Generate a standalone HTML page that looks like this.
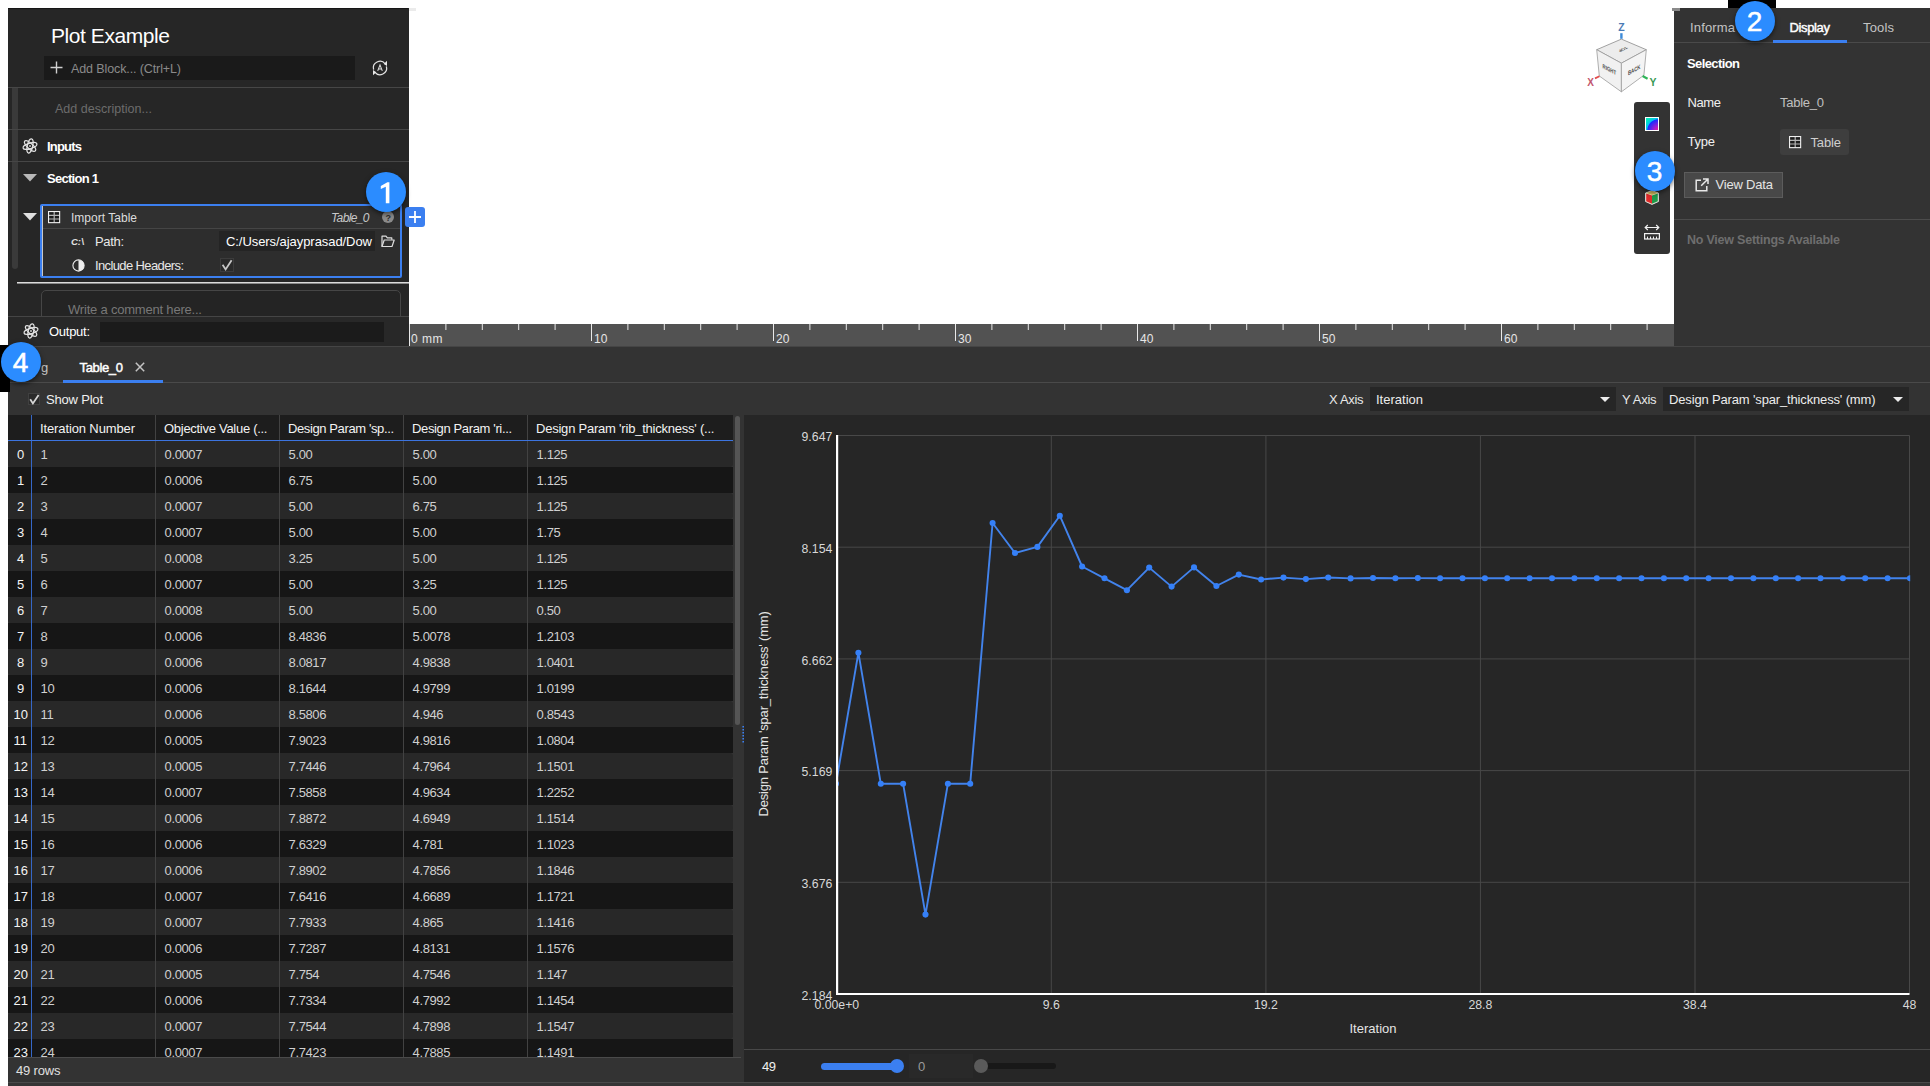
<!DOCTYPE html>
<html lang="en"><head><meta charset="utf-8"><title>Plot Example</title>
<style>
html,body{margin:0;padding:0;}
body{width:1930px;height:1086px;overflow:hidden;background:#fff;position:relative;font-family:"Liberation Sans", sans-serif;}
div,span.t,svg{position:absolute;box-sizing:border-box;}
span.t{white-space:pre;}
svg{overflow:visible;}
</style></head>
<body>
<div style="left:1728px;top:0px;width:48px;height:8px;background:#000;"></div>
<div style="left:8px;top:8px;width:401px;height:338px;background:#262626;"></div>
<div style="left:8px;top:8px;width:400px;height:1px;background:#161616;"></div>
<span id="t0" class="t" style="left:51px;top:25.30px;font-size:21px;line-height:21px;color:#fff;letter-spacing:-0.430px;">Plot Example</span>
<div style="left:44px;top:56px;width:311px;height:24px;background:#1a1a1a;"></div>
<svg style="left:50px;top:61px;" width="13" height="13" viewBox="0 0 13 13"><path d="M6.5 0.5V12.5M0.5 6.5H12.5" stroke="#d0d0d0" stroke-width="1.4" fill="none"/></svg>
<span id="t1" class="t" style="left:71px;top:63.05px;font-size:12.5px;line-height:12.5px;color:#8a8a8a;letter-spacing:-0.110px;">Add Block... (Ctrl+L)</span>
<svg style="left:372px;top:60px;" width="16" height="16" viewBox="0 0 16 16"><g fill="none" stroke="#e2e2e2" stroke-width="1.25"><path d="M1.6 9.6A6.6 6.6 0 0 1 13.2 3.9"/><path d="M14.4 6.4A6.6 6.6 0 0 1 2.8 12.1"/><path d="M5.7 10.9L8 4.9L10.3 10.9M6.6 8.9H9.4" stroke-width="1.05"/></g><path d="M15 0.8V6L11.8 3.9Z" fill="#e8e8e8"/><path d="M1 10V15.2L4.2 12.3Z" fill="#e8e8e8"/></svg>
<div style="left:8px;top:87px;width:401px;height:1px;background:#464646;"></div>
<div style="left:12px;top:88px;width:6px;height:181px;background:#3a3a3a;border-radius:0 0 3px 3px;"></div>
<span id="t2" class="t" style="left:55px;top:103.05px;font-size:12.5px;line-height:12.5px;color:#6c6c6c;letter-spacing:0.024px;">Add description...</span>
<div style="left:8px;top:129px;width:401px;height:1px;background:#464646;"></div>
<svg style="left:23px;top:138px;" width="15" height="16" viewBox="0 0 15 16"><g fill="none" stroke="#e4e4e4" stroke-width="1.25"><ellipse cx="7" cy="8" rx="2.7" ry="7.2" transform="rotate(12 7 8)"/><ellipse cx="7" cy="8" rx="2.7" ry="7.2" transform="rotate(72 7 8)"/><ellipse cx="7" cy="8" rx="2.7" ry="7.2" transform="rotate(132 7 8)"/></g><circle cx="7" cy="8" r="1.1" fill="#bdbdbd"/></svg>
<span id="t3" class="t" style="left:47px;top:140.30px;font-size:13px;line-height:13px;color:#fff;font-weight:700;letter-spacing:-0.800px;">Inputs</span>
<div style="left:8px;top:161px;width:401px;height:1px;background:#464646;"></div>
<svg style="left:23px;top:174px;" width="14" height="8" viewBox="0 0 14 8"><path d="M0 0H14L7 7.5Z" fill="#b8b8b8"/></svg>
<span id="t4" class="t" style="left:47px;top:172.30px;font-size:13px;line-height:13px;color:#fff;font-weight:700;letter-spacing:-0.725px;">Section 1</span>
<div style="left:40px;top:204px;width:362px;height:74px;background:#2d2d2d;border:2px solid #3b7ff0;border-radius:2px;"></div>
<div style="left:42px;top:206px;width:358px;height:22px;background:#303030;"></div>
<div style="left:42px;top:206px;width:1px;height:70px;background:#c8c8c8;"></div>
<div style="left:43px;top:228px;width:357px;height:1px;background:#454545;"></div>
<svg style="left:23px;top:213px;" width="14" height="8" viewBox="0 0 14 8"><path d="M0 0H14L7 7.5Z" fill="#e0e0e0"/></svg>
<svg style="left:48px;top:211px;" width="12" height="12" viewBox="0 0 12 12"><rect x="1" y="1" width="10.4" height="10.4" fill="#1c1c1c"/><g fill="none" stroke="#b4b4b4" stroke-width="1.2"><path d="M0.6 4.3H11.6M0.6 8H11.6M6.2 0.6V11.6"/></g><rect x="0.55" y="0.55" width="11.1" height="11.1" fill="none" stroke="#f0f0f0" stroke-width="1.1"/></svg>
<span id="t5" class="t" style="left:71px;top:212.30px;font-size:12px;line-height:12px;color:#ddd;letter-spacing:0.017px;">Import Table</span>
<span id="t6" class="t" style="left:331px;top:212.30px;font-size:12px;line-height:12px;color:#c8c8c8;font-style:italic;letter-spacing:-0.628px;">Table_0</span>
<div style="left:382px;top:211px;width:12px;height:12px;background:#8a8a8a;border-radius:6px;"></div>
<span id="t7" class="t" style="left:385.6px;top:213.80px;font-size:9px;line-height:9px;color:#2d2d2d;font-weight:700;">?</span>
<span id="t8" class="t" style="left:71px;top:237.05px;font-size:9.5px;line-height:9.5px;color:#e0e0e0;font-weight:700;font-style:italic;">C:</span>
<span id="t9" class="t" style="left:81.4px;top:237.05px;font-size:9.5px;line-height:9.5px;color:#e0e0e0;font-weight:700;">\</span>
<span id="t10" class="t" style="left:95px;top:235.30px;font-size:13px;line-height:13px;color:#e8e8e8;letter-spacing:-0.340px;">Path:</span>
<div style="left:219px;top:231px;width:156px;height:20px;background:#242424;"></div>
<span id="t11" class="t" style="left:226px;top:235.30px;font-size:13px;line-height:13px;color:#fff;letter-spacing:-0.063px;">C:/Users/ajayprasad/Dow</span>
<svg style="left:381px;top:235px;" width="14" height="13" viewBox="0 0 14 13"><g fill="none" stroke="#ddd" stroke-width="1.2" stroke-linejoin="round"><path d="M1 11.5V1.2H5L6.3 2.8H10.8V4.8"/><path d="M1 11.5L3.2 5H13.2L11 11.5Z"/></g></svg>
<svg style="left:71.5px;top:258.5px;" width="13" height="13" viewBox="0 0 13 13"><circle cx="6.5" cy="6.5" r="5.6" fill="none" stroke="#eee" stroke-width="1.1"/><path d="M6.5 0.9A5.6 5.6 0 0 1 6.5 12.1Z" fill="#eee"/></svg>
<span id="t12" class="t" style="left:95px;top:259.30px;font-size:13px;line-height:13px;color:#e8e8e8;letter-spacing:-0.619px;">Include Headers:</span>
<div style="left:220px;top:258px;width:14px;height:14px;background:#2a2a2a;border:1px solid #3c3c3c;"></div>
<svg style="left:221px;top:259px;" width="12" height="12" viewBox="0 0 12 12"><path d="M1.6 5.8L4.6 10.4L10.6 1.2" fill="none" stroke="#c8c8c8" stroke-width="1.8"/></svg>
<div style="left:405px;top:207px;width:20px;height:20px;background:#3b7ff0;border-radius:3px;"></div>
<svg style="left:405px;top:207px;" width="20" height="20" viewBox="0 0 20 20"><path d="M10 4V16M4 10H16" stroke="#fff" stroke-width="1.8" fill="none"/></svg>
<div style="left:17px;top:282px;width:392px;height:1px;background:#dcdcdc;"></div>
<div style="left:17px;top:283px;width:392px;height:1px;background:#8a8a8a;"></div>
<div style="left:41px;top:290px;width:360px;height:40px;background:#242424;border:1px solid #464646;border-radius:5px;"></div>
<span id="t13" class="t" style="left:68px;top:303.30px;font-size:13px;line-height:13px;color:#787878;letter-spacing:-0.204px;">Write a comment here...</span>
<div style="left:8px;top:316px;width:401px;height:30px;background:#282828;border-top:1px solid #454545;"></div>
<svg style="left:24px;top:322.5px;" width="15" height="16" viewBox="0 0 15 16"><g fill="none" stroke="#e4e4e4" stroke-width="1.25"><ellipse cx="7" cy="8" rx="2.7" ry="7.2" transform="rotate(12 7 8)"/><ellipse cx="7" cy="8" rx="2.7" ry="7.2" transform="rotate(72 7 8)"/><ellipse cx="7" cy="8" rx="2.7" ry="7.2" transform="rotate(132 7 8)"/></g><circle cx="7" cy="8" r="1.1" fill="#bdbdbd"/></svg>
<span id="t14" class="t" style="left:49px;top:325.30px;font-size:13px;line-height:13px;color:#fff;letter-spacing:-0.273px;">Output:</span>
<div style="left:100px;top:322px;width:284px;height:20px;background:#1b1b1b;"></div>
<div style="left:409px;top:8px;width:7px;height:3px;background:#ebebeb;"></div>
<div style="left:409px;top:324px;width:1265px;height:22px;background:#525252;"></div>
<svg style="left:409px;top:324px;overflow:hidden;" width="1265" height="22" viewBox="0 0 1265 22"><g stroke="#e8e8e8" stroke-width="1" fill="none"><path d="M0.5 0V22" /><path d="M36.9 0V6" /><path d="M73.3 0V6" /><path d="M109.7 0V6" /><path d="M146.1 0V6" /><path d="M182.5 0V17" /><path d="M218.9 0V6" /><path d="M255.3 0V6" /><path d="M291.7 0V6" /><path d="M328.1 0V6" /><path d="M364.5 0V17" /><path d="M400.9 0V6" /><path d="M437.3 0V6" /><path d="M473.7 0V6" /><path d="M510.1 0V6" /><path d="M546.5 0V17" /><path d="M582.9 0V6" /><path d="M619.3 0V6" /><path d="M655.7 0V6" /><path d="M692.1 0V6" /><path d="M728.5 0V17" /><path d="M764.9 0V6" /><path d="M801.3 0V6" /><path d="M837.7 0V6" /><path d="M874.1 0V6" /><path d="M910.5 0V17" /><path d="M946.9 0V6" /><path d="M983.3 0V6" /><path d="M1019.7 0V6" /><path d="M1056.1 0V6" /><path d="M1092.5 0V17" /><path d="M1128.9 0V6" /><path d="M1165.3 0V6" /><path d="M1201.7 0V6" /><path d="M1238.1 0V6" /></g></svg>
<span id="t15" class="t" style="left:411px;top:333.30px;font-size:12px;line-height:12px;color:#e6e6e6;letter-spacing:0.500px;">0 mm</span>
<span id="t16" class="t" style="left:594px;top:333.30px;font-size:12px;line-height:12px;color:#e6e6e6;">10</span>
<span id="t17" class="t" style="left:776px;top:333.30px;font-size:12px;line-height:12px;color:#e6e6e6;">20</span>
<span id="t18" class="t" style="left:958px;top:333.30px;font-size:12px;line-height:12px;color:#e6e6e6;">30</span>
<span id="t19" class="t" style="left:1140px;top:333.30px;font-size:12px;line-height:12px;color:#e6e6e6;">40</span>
<span id="t20" class="t" style="left:1322px;top:333.30px;font-size:12px;line-height:12px;color:#e6e6e6;">50</span>
<span id="t21" class="t" style="left:1504px;top:333.30px;font-size:12px;line-height:12px;color:#e6e6e6;">60</span>
<div style="left:1634px;top:102px;width:36px;height:152px;background:#333333;border-radius:3px;"></div>
<svg style="left:1645px;top:117px" width="14" height="14" viewBox="0 0 14 14"><defs><radialGradient id="cg" cx="1" cy="1" r="1.15" gradientUnits="objectBoundingBox"><stop offset="0" stop-color="#ff1a8c"/><stop offset="0.3" stop-color="#a01fd0"/><stop offset="0.72" stop-color="#1a2cff"/><stop offset="0.78" stop-color="#00c0f0"/><stop offset="1" stop-color="#00e8c0"/></radialGradient></defs><rect x="0.5" y="0.5" width="13" height="13" fill="url(#cg)" stroke="#fff" stroke-width="1"/></svg>
<svg style="left:1645px;top:190px;" width="14" height="15" viewBox="0 0 14 15"><path d="M7 0.6L13.4 3V11.6L7 14.4L0.6 11.6V3Z" fill="#f4f0d0" stroke="#f0f0f0" stroke-width="0.8"/><path d="M1.2 3.6L7 5.6V13.8L1.2 11.2Z" fill="#e02a2a"/><path d="M12.8 3.6L7 5.6V13.8L12.8 11.2Z" fill="#1f9a4a"/><path d="M1.4 3.1L7 0.9L12.6 3.1L7 5.1Z" fill="#d8c060"/></svg>
<svg style="left:1644px;top:223px;" width="16" height="17" viewBox="0 0 16 17"><g fill="none" stroke="#f2f2f2" stroke-width="1.2"><path d="M1.5 4.5H14.5M3.8 2L1.2 4.5L3.8 7M12.2 2L14.8 4.5L12.2 7"/><rect x="0.6" y="10.6" width="14.8" height="5.4"/><path d="M3.5 16V13.6M6.5 16V13.6M9.5 16V13.6M12.5 16V13.6" stroke-width="1"/></g></svg>
<div style="left:1674px;top:8px;width:256px;height:338px;background:#333333;"></div>
<div style="left:1672px;top:8px;width:8px;height:3px;background:#8a8a8a;"></div>
<span id="t22" class="t" style="left:1690px;top:21.30px;font-size:13px;line-height:13px;color:#c4c4c4;letter-spacing:0.154px;">Informa</span>
<span id="t23" class="t" style="left:1789.5px;top:21.30px;font-size:13px;line-height:13px;color:#fff;letter-spacing:-0.354px;-webkit-text-stroke:0.45px #fff;">Display</span>
<span id="t24" class="t" style="left:1863px;top:21.30px;font-size:13px;line-height:13px;color:#c4c4c4;letter-spacing:0.160px;">Tools</span>
<div style="left:1674px;top:42px;width:256px;height:1px;background:#4a4a4a;"></div>
<div style="left:1773px;top:40px;width:74px;height:3px;background:#3b7ff0;"></div>
<span id="t25" class="t" style="left:1687px;top:57.30px;font-size:13px;line-height:13px;color:#fff;font-weight:700;letter-spacing:-0.600px;">Selection</span>
<span id="t26" class="t" style="left:1687.5px;top:96.30px;font-size:13px;line-height:13px;color:#f0f0f0;letter-spacing:-0.396px;">Name</span>
<span id="t27" class="t" style="left:1780px;top:96.30px;font-size:13px;line-height:13px;color:#c0c0c0;letter-spacing:-0.258px;">Table_0</span>
<span id="t28" class="t" style="left:1687.5px;top:135.30px;font-size:13px;line-height:13px;color:#f0f0f0;letter-spacing:-0.229px;">Type</span>
<div style="left:1780px;top:129px;width:69px;height:26px;background:#3e3e3e;border-radius:3px;"></div>
<svg style="left:1789px;top:136px;" width="12" height="12" viewBox="0 0 12 12"><rect x="1" y="1" width="10.4" height="10.4" fill="#1c1c1c"/><g fill="none" stroke="#b4b4b4" stroke-width="1.2"><path d="M0.6 4.3H11.6M0.6 8H11.6M6.2 0.6V11.6"/></g><rect x="0.55" y="0.55" width="11.1" height="11.1" fill="none" stroke="#f0f0f0" stroke-width="1.1"/></svg>
<span id="t29" class="t" style="left:1810.5px;top:136.30px;font-size:13px;line-height:13px;color:#cfcfcf;letter-spacing:-0.145px;">Table</span>
<div style="left:1684px;top:172px;width:99px;height:26px;background:#484848;border:1px solid #5c5c5c;"></div>
<svg style="left:1695px;top:178px;" width="14" height="14" viewBox="0 0 14 14"><g fill="none" stroke="#e8e8e8" stroke-width="1.5"><path d="M6 2.2H1.2V12.8H11.8V8"/><path d="M8 1H13V6M13 1L6.2 7.8"/></g></svg>
<span id="t30" class="t" style="left:1715.5px;top:178.30px;font-size:13px;line-height:13px;color:#e4e4e4;letter-spacing:-0.189px;">View Data</span>
<div style="left:1674px;top:219px;width:256px;height:1px;background:#4c4c4c;"></div>
<span id="t31" class="t" style="left:1687px;top:234.05px;font-size:12.5px;line-height:12.5px;color:#6e6e6e;font-weight:700;letter-spacing:-0.225px;">No View Settings Available</span>
<div style="left:8px;top:346px;width:1922px;height:740px;background:#333333;"></div>
<div style="left:8px;top:346px;width:1922px;height:1px;background:#454545;"></div>
<div style="left:8px;top:382px;width:1922px;height:1px;background:#4a4a4a;"></div>
<span id="t32" class="t" style="left:41px;top:361.30px;font-size:13px;line-height:13px;color:#c4c4c4;">g</span>
<span id="t33" class="t" style="left:79.5px;top:361.30px;font-size:13px;line-height:13px;color:#fff;letter-spacing:-0.341px;-webkit-text-stroke:0.45px #fff;">Table_0</span>
<svg style="left:135px;top:362px;" width="10" height="10" viewBox="0 0 10 10"><path d="M0.8 0.8L9.2 9.2M9.2 0.8L0.8 9.2" stroke="#c4c4c4" stroke-width="1.5" fill="none"/></svg>
<div style="left:63px;top:380px;width:100px;height:3px;background:#3b7ff0;"></div>
<div style="left:28px;top:393px;width:12px;height:12px;background:#2a2a2a;border:1px solid #404040;"></div>
<svg style="left:29px;top:394px;" width="11" height="11" viewBox="0 0 11 11"><path d="M1.2 5.2L3.9 9.4L9.6 1" fill="none" stroke="#d4d4d4" stroke-width="1.8"/></svg>
<span id="t34" class="t" style="left:46px;top:393.30px;font-size:13px;line-height:13px;color:#f0f0f0;letter-spacing:-0.193px;">Show Plot</span>
<span id="t35" class="t" style="left:1329px;top:393.30px;font-size:13px;line-height:13px;color:#e8e8e8;letter-spacing:-0.325px;">X Axis</span>
<div style="left:1370px;top:387px;width:246px;height:24px;background:#262626;"></div>
<span id="t36" class="t" style="left:1376px;top:393.30px;font-size:13px;line-height:13px;color:#ececec;letter-spacing:0.002px;">Iteration</span>
<svg style="left:1600px;top:397px;" width="10" height="5" viewBox="0 0 10 5"><path d="M0 0H10L5 5Z" fill="#ececec"/></svg>
<span id="t37" class="t" style="left:1622px;top:393.30px;font-size:13px;line-height:13px;color:#e8e8e8;letter-spacing:-0.278px;">Y Axis</span>
<div style="left:1663px;top:387px;width:246px;height:24px;background:#262626;"></div>
<span id="t38" class="t" style="left:1669px;top:393.30px;font-size:13px;line-height:13px;color:#ececec;letter-spacing:-0.154px;">Design Param 'spar_thickness' (mm)</span>
<svg style="left:1893px;top:397px;" width="10" height="5" viewBox="0 0 10 5"><path d="M0 0H10L5 5Z" fill="#ececec"/></svg>
<div style="left:8px;top:415px;width:725px;height:26px;background:#1d1d1d;"></div>
<div style="left:8px;top:441px;width:725px;height:26px;background:#282828;border-radius:3px;"></div>
<div style="left:8px;top:467px;width:725px;height:26px;background:#161616;"></div>
<div style="left:8px;top:493px;width:725px;height:26px;background:#282828;border-radius:3px;"></div>
<div style="left:8px;top:519px;width:725px;height:26px;background:#161616;"></div>
<div style="left:8px;top:545px;width:725px;height:26px;background:#282828;border-radius:3px;"></div>
<div style="left:8px;top:571px;width:725px;height:26px;background:#161616;"></div>
<div style="left:8px;top:597px;width:725px;height:26px;background:#282828;border-radius:3px;"></div>
<div style="left:8px;top:623px;width:725px;height:26px;background:#161616;"></div>
<div style="left:8px;top:649px;width:725px;height:26px;background:#282828;border-radius:3px;"></div>
<div style="left:8px;top:675px;width:725px;height:26px;background:#161616;"></div>
<div style="left:8px;top:701px;width:725px;height:26px;background:#282828;border-radius:3px;"></div>
<div style="left:8px;top:727px;width:725px;height:26px;background:#161616;"></div>
<div style="left:8px;top:753px;width:725px;height:26px;background:#282828;border-radius:3px;"></div>
<div style="left:8px;top:779px;width:725px;height:26px;background:#161616;"></div>
<div style="left:8px;top:805px;width:725px;height:26px;background:#282828;border-radius:3px;"></div>
<div style="left:8px;top:831px;width:725px;height:26px;background:#161616;"></div>
<div style="left:8px;top:857px;width:725px;height:26px;background:#282828;border-radius:3px;"></div>
<div style="left:8px;top:883px;width:725px;height:26px;background:#161616;"></div>
<div style="left:8px;top:909px;width:725px;height:26px;background:#282828;border-radius:3px;"></div>
<div style="left:8px;top:935px;width:725px;height:26px;background:#161616;"></div>
<div style="left:8px;top:961px;width:725px;height:26px;background:#282828;border-radius:3px;"></div>
<div style="left:8px;top:987px;width:725px;height:26px;background:#161616;"></div>
<div style="left:8px;top:1013px;width:725px;height:26px;background:#282828;border-radius:3px;"></div>
<div style="left:8px;top:1039px;width:725px;height:18px;background:#161616;"></div>
<div style="left:8px;top:415px;width:725px;height:642px;overflow:hidden;">
<span id="t39" class="t" style="left:32px;top:7.30px;font-size:13px;line-height:13px;color:#f2f2f2;letter-spacing:-0.122px;">Iteration Number</span>
<span id="t40" class="t" style="left:156px;top:7.30px;font-size:13px;line-height:13px;color:#f2f2f2;letter-spacing:-0.283px;">Objective Value (...</span>
<span id="t41" class="t" style="left:280px;top:7.30px;font-size:13px;line-height:13px;color:#f2f2f2;letter-spacing:-0.391px;">Design Param 'sp...</span>
<span id="t42" class="t" style="left:404px;top:7.30px;font-size:13px;line-height:13px;color:#f2f2f2;letter-spacing:-0.362px;">Design Param 'ri...</span>
<span id="t43" class="t" style="left:528px;top:7.30px;font-size:13px;line-height:13px;color:#f2f2f2;letter-spacing:-0.222px;">Design Param 'rib_thickness' (...</span>
<span id="t44" class="t" style="left:9px;top:33.30px;font-size:13px;line-height:13px;color:#f4f4f4;">0</span>
<span id="t45" class="t" style="left:32.6px;top:33.30px;font-size:13px;line-height:13px;color:#d0d0d0;letter-spacing:-0.4px;">1</span>
<span id="t46" class="t" style="left:156.6px;top:33.30px;font-size:13px;line-height:13px;color:#d0d0d0;letter-spacing:-0.4px;">0.0007</span>
<span id="t47" class="t" style="left:280.6px;top:33.30px;font-size:13px;line-height:13px;color:#d0d0d0;letter-spacing:-0.4px;">5.00</span>
<span id="t48" class="t" style="left:404.6px;top:33.30px;font-size:13px;line-height:13px;color:#d0d0d0;letter-spacing:-0.4px;">5.00</span>
<span id="t49" class="t" style="left:528.6px;top:33.30px;font-size:13px;line-height:13px;color:#d0d0d0;letter-spacing:-0.4px;">1.125</span>
<span id="t50" class="t" style="left:9px;top:59.30px;font-size:13px;line-height:13px;color:#f4f4f4;">1</span>
<span id="t51" class="t" style="left:32.6px;top:59.30px;font-size:13px;line-height:13px;color:#d0d0d0;letter-spacing:-0.4px;">2</span>
<span id="t52" class="t" style="left:156.6px;top:59.30px;font-size:13px;line-height:13px;color:#d0d0d0;letter-spacing:-0.4px;">0.0006</span>
<span id="t53" class="t" style="left:280.6px;top:59.30px;font-size:13px;line-height:13px;color:#d0d0d0;letter-spacing:-0.4px;">6.75</span>
<span id="t54" class="t" style="left:404.6px;top:59.30px;font-size:13px;line-height:13px;color:#d0d0d0;letter-spacing:-0.4px;">5.00</span>
<span id="t55" class="t" style="left:528.6px;top:59.30px;font-size:13px;line-height:13px;color:#d0d0d0;letter-spacing:-0.4px;">1.125</span>
<span id="t56" class="t" style="left:9px;top:85.30px;font-size:13px;line-height:13px;color:#f4f4f4;">2</span>
<span id="t57" class="t" style="left:32.6px;top:85.30px;font-size:13px;line-height:13px;color:#d0d0d0;letter-spacing:-0.4px;">3</span>
<span id="t58" class="t" style="left:156.6px;top:85.30px;font-size:13px;line-height:13px;color:#d0d0d0;letter-spacing:-0.4px;">0.0007</span>
<span id="t59" class="t" style="left:280.6px;top:85.30px;font-size:13px;line-height:13px;color:#d0d0d0;letter-spacing:-0.4px;">5.00</span>
<span id="t60" class="t" style="left:404.6px;top:85.30px;font-size:13px;line-height:13px;color:#d0d0d0;letter-spacing:-0.4px;">6.75</span>
<span id="t61" class="t" style="left:528.6px;top:85.30px;font-size:13px;line-height:13px;color:#d0d0d0;letter-spacing:-0.4px;">1.125</span>
<span id="t62" class="t" style="left:9px;top:111.30px;font-size:13px;line-height:13px;color:#f4f4f4;">3</span>
<span id="t63" class="t" style="left:32.6px;top:111.30px;font-size:13px;line-height:13px;color:#d0d0d0;letter-spacing:-0.4px;">4</span>
<span id="t64" class="t" style="left:156.6px;top:111.30px;font-size:13px;line-height:13px;color:#d0d0d0;letter-spacing:-0.4px;">0.0007</span>
<span id="t65" class="t" style="left:280.6px;top:111.30px;font-size:13px;line-height:13px;color:#d0d0d0;letter-spacing:-0.4px;">5.00</span>
<span id="t66" class="t" style="left:404.6px;top:111.30px;font-size:13px;line-height:13px;color:#d0d0d0;letter-spacing:-0.4px;">5.00</span>
<span id="t67" class="t" style="left:528.6px;top:111.30px;font-size:13px;line-height:13px;color:#d0d0d0;letter-spacing:-0.4px;">1.75</span>
<span id="t68" class="t" style="left:9px;top:137.30px;font-size:13px;line-height:13px;color:#f4f4f4;">4</span>
<span id="t69" class="t" style="left:32.6px;top:137.30px;font-size:13px;line-height:13px;color:#d0d0d0;letter-spacing:-0.4px;">5</span>
<span id="t70" class="t" style="left:156.6px;top:137.30px;font-size:13px;line-height:13px;color:#d0d0d0;letter-spacing:-0.4px;">0.0008</span>
<span id="t71" class="t" style="left:280.6px;top:137.30px;font-size:13px;line-height:13px;color:#d0d0d0;letter-spacing:-0.4px;">3.25</span>
<span id="t72" class="t" style="left:404.6px;top:137.30px;font-size:13px;line-height:13px;color:#d0d0d0;letter-spacing:-0.4px;">5.00</span>
<span id="t73" class="t" style="left:528.6px;top:137.30px;font-size:13px;line-height:13px;color:#d0d0d0;letter-spacing:-0.4px;">1.125</span>
<span id="t74" class="t" style="left:9px;top:163.30px;font-size:13px;line-height:13px;color:#f4f4f4;">5</span>
<span id="t75" class="t" style="left:32.6px;top:163.30px;font-size:13px;line-height:13px;color:#d0d0d0;letter-spacing:-0.4px;">6</span>
<span id="t76" class="t" style="left:156.6px;top:163.30px;font-size:13px;line-height:13px;color:#d0d0d0;letter-spacing:-0.4px;">0.0007</span>
<span id="t77" class="t" style="left:280.6px;top:163.30px;font-size:13px;line-height:13px;color:#d0d0d0;letter-spacing:-0.4px;">5.00</span>
<span id="t78" class="t" style="left:404.6px;top:163.30px;font-size:13px;line-height:13px;color:#d0d0d0;letter-spacing:-0.4px;">3.25</span>
<span id="t79" class="t" style="left:528.6px;top:163.30px;font-size:13px;line-height:13px;color:#d0d0d0;letter-spacing:-0.4px;">1.125</span>
<span id="t80" class="t" style="left:9px;top:189.30px;font-size:13px;line-height:13px;color:#f4f4f4;">6</span>
<span id="t81" class="t" style="left:32.6px;top:189.30px;font-size:13px;line-height:13px;color:#d0d0d0;letter-spacing:-0.4px;">7</span>
<span id="t82" class="t" style="left:156.6px;top:189.30px;font-size:13px;line-height:13px;color:#d0d0d0;letter-spacing:-0.4px;">0.0008</span>
<span id="t83" class="t" style="left:280.6px;top:189.30px;font-size:13px;line-height:13px;color:#d0d0d0;letter-spacing:-0.4px;">5.00</span>
<span id="t84" class="t" style="left:404.6px;top:189.30px;font-size:13px;line-height:13px;color:#d0d0d0;letter-spacing:-0.4px;">5.00</span>
<span id="t85" class="t" style="left:528.6px;top:189.30px;font-size:13px;line-height:13px;color:#d0d0d0;letter-spacing:-0.4px;">0.50</span>
<span id="t86" class="t" style="left:9px;top:215.30px;font-size:13px;line-height:13px;color:#f4f4f4;">7</span>
<span id="t87" class="t" style="left:32.6px;top:215.30px;font-size:13px;line-height:13px;color:#d0d0d0;letter-spacing:-0.4px;">8</span>
<span id="t88" class="t" style="left:156.6px;top:215.30px;font-size:13px;line-height:13px;color:#d0d0d0;letter-spacing:-0.4px;">0.0006</span>
<span id="t89" class="t" style="left:280.6px;top:215.30px;font-size:13px;line-height:13px;color:#d0d0d0;letter-spacing:-0.4px;">8.4836</span>
<span id="t90" class="t" style="left:404.6px;top:215.30px;font-size:13px;line-height:13px;color:#d0d0d0;letter-spacing:-0.4px;">5.0078</span>
<span id="t91" class="t" style="left:528.6px;top:215.30px;font-size:13px;line-height:13px;color:#d0d0d0;letter-spacing:-0.4px;">1.2103</span>
<span id="t92" class="t" style="left:9px;top:241.30px;font-size:13px;line-height:13px;color:#f4f4f4;">8</span>
<span id="t93" class="t" style="left:32.6px;top:241.30px;font-size:13px;line-height:13px;color:#d0d0d0;letter-spacing:-0.4px;">9</span>
<span id="t94" class="t" style="left:156.6px;top:241.30px;font-size:13px;line-height:13px;color:#d0d0d0;letter-spacing:-0.4px;">0.0006</span>
<span id="t95" class="t" style="left:280.6px;top:241.30px;font-size:13px;line-height:13px;color:#d0d0d0;letter-spacing:-0.4px;">8.0817</span>
<span id="t96" class="t" style="left:404.6px;top:241.30px;font-size:13px;line-height:13px;color:#d0d0d0;letter-spacing:-0.4px;">4.9838</span>
<span id="t97" class="t" style="left:528.6px;top:241.30px;font-size:13px;line-height:13px;color:#d0d0d0;letter-spacing:-0.4px;">1.0401</span>
<span id="t98" class="t" style="left:9px;top:267.30px;font-size:13px;line-height:13px;color:#f4f4f4;">9</span>
<span id="t99" class="t" style="left:32.6px;top:267.30px;font-size:13px;line-height:13px;color:#d0d0d0;letter-spacing:-0.4px;">10</span>
<span id="t100" class="t" style="left:156.6px;top:267.30px;font-size:13px;line-height:13px;color:#d0d0d0;letter-spacing:-0.4px;">0.0006</span>
<span id="t101" class="t" style="left:280.6px;top:267.30px;font-size:13px;line-height:13px;color:#d0d0d0;letter-spacing:-0.4px;">8.1644</span>
<span id="t102" class="t" style="left:404.6px;top:267.30px;font-size:13px;line-height:13px;color:#d0d0d0;letter-spacing:-0.4px;">4.9799</span>
<span id="t103" class="t" style="left:528.6px;top:267.30px;font-size:13px;line-height:13px;color:#d0d0d0;letter-spacing:-0.4px;">1.0199</span>
<span id="t104" class="t" style="left:5.5px;top:293.30px;font-size:13px;line-height:13px;color:#f4f4f4;">10</span>
<span id="t105" class="t" style="left:32.6px;top:293.30px;font-size:13px;line-height:13px;color:#d0d0d0;letter-spacing:-0.4px;">11</span>
<span id="t106" class="t" style="left:156.6px;top:293.30px;font-size:13px;line-height:13px;color:#d0d0d0;letter-spacing:-0.4px;">0.0006</span>
<span id="t107" class="t" style="left:280.6px;top:293.30px;font-size:13px;line-height:13px;color:#d0d0d0;letter-spacing:-0.4px;">8.5806</span>
<span id="t108" class="t" style="left:404.6px;top:293.30px;font-size:13px;line-height:13px;color:#d0d0d0;letter-spacing:-0.4px;">4.946</span>
<span id="t109" class="t" style="left:528.6px;top:293.30px;font-size:13px;line-height:13px;color:#d0d0d0;letter-spacing:-0.4px;">0.8543</span>
<span id="t110" class="t" style="left:5.5px;top:319.30px;font-size:13px;line-height:13px;color:#f4f4f4;">11</span>
<span id="t111" class="t" style="left:32.6px;top:319.30px;font-size:13px;line-height:13px;color:#d0d0d0;letter-spacing:-0.4px;">12</span>
<span id="t112" class="t" style="left:156.6px;top:319.30px;font-size:13px;line-height:13px;color:#d0d0d0;letter-spacing:-0.4px;">0.0005</span>
<span id="t113" class="t" style="left:280.6px;top:319.30px;font-size:13px;line-height:13px;color:#d0d0d0;letter-spacing:-0.4px;">7.9023</span>
<span id="t114" class="t" style="left:404.6px;top:319.30px;font-size:13px;line-height:13px;color:#d0d0d0;letter-spacing:-0.4px;">4.9816</span>
<span id="t115" class="t" style="left:528.6px;top:319.30px;font-size:13px;line-height:13px;color:#d0d0d0;letter-spacing:-0.4px;">1.0804</span>
<span id="t116" class="t" style="left:5.5px;top:345.30px;font-size:13px;line-height:13px;color:#f4f4f4;">12</span>
<span id="t117" class="t" style="left:32.6px;top:345.30px;font-size:13px;line-height:13px;color:#d0d0d0;letter-spacing:-0.4px;">13</span>
<span id="t118" class="t" style="left:156.6px;top:345.30px;font-size:13px;line-height:13px;color:#d0d0d0;letter-spacing:-0.4px;">0.0005</span>
<span id="t119" class="t" style="left:280.6px;top:345.30px;font-size:13px;line-height:13px;color:#d0d0d0;letter-spacing:-0.4px;">7.7446</span>
<span id="t120" class="t" style="left:404.6px;top:345.30px;font-size:13px;line-height:13px;color:#d0d0d0;letter-spacing:-0.4px;">4.7964</span>
<span id="t121" class="t" style="left:528.6px;top:345.30px;font-size:13px;line-height:13px;color:#d0d0d0;letter-spacing:-0.4px;">1.1501</span>
<span id="t122" class="t" style="left:5.5px;top:371.30px;font-size:13px;line-height:13px;color:#f4f4f4;">13</span>
<span id="t123" class="t" style="left:32.6px;top:371.30px;font-size:13px;line-height:13px;color:#d0d0d0;letter-spacing:-0.4px;">14</span>
<span id="t124" class="t" style="left:156.6px;top:371.30px;font-size:13px;line-height:13px;color:#d0d0d0;letter-spacing:-0.4px;">0.0007</span>
<span id="t125" class="t" style="left:280.6px;top:371.30px;font-size:13px;line-height:13px;color:#d0d0d0;letter-spacing:-0.4px;">7.5858</span>
<span id="t126" class="t" style="left:404.6px;top:371.30px;font-size:13px;line-height:13px;color:#d0d0d0;letter-spacing:-0.4px;">4.9634</span>
<span id="t127" class="t" style="left:528.6px;top:371.30px;font-size:13px;line-height:13px;color:#d0d0d0;letter-spacing:-0.4px;">1.2252</span>
<span id="t128" class="t" style="left:5.5px;top:397.30px;font-size:13px;line-height:13px;color:#f4f4f4;">14</span>
<span id="t129" class="t" style="left:32.6px;top:397.30px;font-size:13px;line-height:13px;color:#d0d0d0;letter-spacing:-0.4px;">15</span>
<span id="t130" class="t" style="left:156.6px;top:397.30px;font-size:13px;line-height:13px;color:#d0d0d0;letter-spacing:-0.4px;">0.0006</span>
<span id="t131" class="t" style="left:280.6px;top:397.30px;font-size:13px;line-height:13px;color:#d0d0d0;letter-spacing:-0.4px;">7.8872</span>
<span id="t132" class="t" style="left:404.6px;top:397.30px;font-size:13px;line-height:13px;color:#d0d0d0;letter-spacing:-0.4px;">4.6949</span>
<span id="t133" class="t" style="left:528.6px;top:397.30px;font-size:13px;line-height:13px;color:#d0d0d0;letter-spacing:-0.4px;">1.1514</span>
<span id="t134" class="t" style="left:5.5px;top:423.30px;font-size:13px;line-height:13px;color:#f4f4f4;">15</span>
<span id="t135" class="t" style="left:32.6px;top:423.30px;font-size:13px;line-height:13px;color:#d0d0d0;letter-spacing:-0.4px;">16</span>
<span id="t136" class="t" style="left:156.6px;top:423.30px;font-size:13px;line-height:13px;color:#d0d0d0;letter-spacing:-0.4px;">0.0006</span>
<span id="t137" class="t" style="left:280.6px;top:423.30px;font-size:13px;line-height:13px;color:#d0d0d0;letter-spacing:-0.4px;">7.6329</span>
<span id="t138" class="t" style="left:404.6px;top:423.30px;font-size:13px;line-height:13px;color:#d0d0d0;letter-spacing:-0.4px;">4.781</span>
<span id="t139" class="t" style="left:528.6px;top:423.30px;font-size:13px;line-height:13px;color:#d0d0d0;letter-spacing:-0.4px;">1.1023</span>
<span id="t140" class="t" style="left:5.5px;top:449.30px;font-size:13px;line-height:13px;color:#f4f4f4;">16</span>
<span id="t141" class="t" style="left:32.6px;top:449.30px;font-size:13px;line-height:13px;color:#d0d0d0;letter-spacing:-0.4px;">17</span>
<span id="t142" class="t" style="left:156.6px;top:449.30px;font-size:13px;line-height:13px;color:#d0d0d0;letter-spacing:-0.4px;">0.0006</span>
<span id="t143" class="t" style="left:280.6px;top:449.30px;font-size:13px;line-height:13px;color:#d0d0d0;letter-spacing:-0.4px;">7.8902</span>
<span id="t144" class="t" style="left:404.6px;top:449.30px;font-size:13px;line-height:13px;color:#d0d0d0;letter-spacing:-0.4px;">4.7856</span>
<span id="t145" class="t" style="left:528.6px;top:449.30px;font-size:13px;line-height:13px;color:#d0d0d0;letter-spacing:-0.4px;">1.1846</span>
<span id="t146" class="t" style="left:5.5px;top:475.30px;font-size:13px;line-height:13px;color:#f4f4f4;">17</span>
<span id="t147" class="t" style="left:32.6px;top:475.30px;font-size:13px;line-height:13px;color:#d0d0d0;letter-spacing:-0.4px;">18</span>
<span id="t148" class="t" style="left:156.6px;top:475.30px;font-size:13px;line-height:13px;color:#d0d0d0;letter-spacing:-0.4px;">0.0007</span>
<span id="t149" class="t" style="left:280.6px;top:475.30px;font-size:13px;line-height:13px;color:#d0d0d0;letter-spacing:-0.4px;">7.6416</span>
<span id="t150" class="t" style="left:404.6px;top:475.30px;font-size:13px;line-height:13px;color:#d0d0d0;letter-spacing:-0.4px;">4.6689</span>
<span id="t151" class="t" style="left:528.6px;top:475.30px;font-size:13px;line-height:13px;color:#d0d0d0;letter-spacing:-0.4px;">1.1721</span>
<span id="t152" class="t" style="left:5.5px;top:501.30px;font-size:13px;line-height:13px;color:#f4f4f4;">18</span>
<span id="t153" class="t" style="left:32.6px;top:501.30px;font-size:13px;line-height:13px;color:#d0d0d0;letter-spacing:-0.4px;">19</span>
<span id="t154" class="t" style="left:156.6px;top:501.30px;font-size:13px;line-height:13px;color:#d0d0d0;letter-spacing:-0.4px;">0.0007</span>
<span id="t155" class="t" style="left:280.6px;top:501.30px;font-size:13px;line-height:13px;color:#d0d0d0;letter-spacing:-0.4px;">7.7933</span>
<span id="t156" class="t" style="left:404.6px;top:501.30px;font-size:13px;line-height:13px;color:#d0d0d0;letter-spacing:-0.4px;">4.865</span>
<span id="t157" class="t" style="left:528.6px;top:501.30px;font-size:13px;line-height:13px;color:#d0d0d0;letter-spacing:-0.4px;">1.1416</span>
<span id="t158" class="t" style="left:5.5px;top:527.30px;font-size:13px;line-height:13px;color:#f4f4f4;">19</span>
<span id="t159" class="t" style="left:32.6px;top:527.30px;font-size:13px;line-height:13px;color:#d0d0d0;letter-spacing:-0.4px;">20</span>
<span id="t160" class="t" style="left:156.6px;top:527.30px;font-size:13px;line-height:13px;color:#d0d0d0;letter-spacing:-0.4px;">0.0006</span>
<span id="t161" class="t" style="left:280.6px;top:527.30px;font-size:13px;line-height:13px;color:#d0d0d0;letter-spacing:-0.4px;">7.7287</span>
<span id="t162" class="t" style="left:404.6px;top:527.30px;font-size:13px;line-height:13px;color:#d0d0d0;letter-spacing:-0.4px;">4.8131</span>
<span id="t163" class="t" style="left:528.6px;top:527.30px;font-size:13px;line-height:13px;color:#d0d0d0;letter-spacing:-0.4px;">1.1576</span>
<span id="t164" class="t" style="left:5.5px;top:553.30px;font-size:13px;line-height:13px;color:#f4f4f4;">20</span>
<span id="t165" class="t" style="left:32.6px;top:553.30px;font-size:13px;line-height:13px;color:#d0d0d0;letter-spacing:-0.4px;">21</span>
<span id="t166" class="t" style="left:156.6px;top:553.30px;font-size:13px;line-height:13px;color:#d0d0d0;letter-spacing:-0.4px;">0.0005</span>
<span id="t167" class="t" style="left:280.6px;top:553.30px;font-size:13px;line-height:13px;color:#d0d0d0;letter-spacing:-0.4px;">7.754</span>
<span id="t168" class="t" style="left:404.6px;top:553.30px;font-size:13px;line-height:13px;color:#d0d0d0;letter-spacing:-0.4px;">4.7546</span>
<span id="t169" class="t" style="left:528.6px;top:553.30px;font-size:13px;line-height:13px;color:#d0d0d0;letter-spacing:-0.4px;">1.147</span>
<span id="t170" class="t" style="left:5.5px;top:579.30px;font-size:13px;line-height:13px;color:#f4f4f4;">21</span>
<span id="t171" class="t" style="left:32.6px;top:579.30px;font-size:13px;line-height:13px;color:#d0d0d0;letter-spacing:-0.4px;">22</span>
<span id="t172" class="t" style="left:156.6px;top:579.30px;font-size:13px;line-height:13px;color:#d0d0d0;letter-spacing:-0.4px;">0.0006</span>
<span id="t173" class="t" style="left:280.6px;top:579.30px;font-size:13px;line-height:13px;color:#d0d0d0;letter-spacing:-0.4px;">7.7334</span>
<span id="t174" class="t" style="left:404.6px;top:579.30px;font-size:13px;line-height:13px;color:#d0d0d0;letter-spacing:-0.4px;">4.7992</span>
<span id="t175" class="t" style="left:528.6px;top:579.30px;font-size:13px;line-height:13px;color:#d0d0d0;letter-spacing:-0.4px;">1.1454</span>
<span id="t176" class="t" style="left:5.5px;top:605.30px;font-size:13px;line-height:13px;color:#f4f4f4;">22</span>
<span id="t177" class="t" style="left:32.6px;top:605.30px;font-size:13px;line-height:13px;color:#d0d0d0;letter-spacing:-0.4px;">23</span>
<span id="t178" class="t" style="left:156.6px;top:605.30px;font-size:13px;line-height:13px;color:#d0d0d0;letter-spacing:-0.4px;">0.0007</span>
<span id="t179" class="t" style="left:280.6px;top:605.30px;font-size:13px;line-height:13px;color:#d0d0d0;letter-spacing:-0.4px;">7.7544</span>
<span id="t180" class="t" style="left:404.6px;top:605.30px;font-size:13px;line-height:13px;color:#d0d0d0;letter-spacing:-0.4px;">4.7898</span>
<span id="t181" class="t" style="left:528.6px;top:605.30px;font-size:13px;line-height:13px;color:#d0d0d0;letter-spacing:-0.4px;">1.1547</span>
<span id="t182" class="t" style="left:5.5px;top:631.30px;font-size:13px;line-height:13px;color:#f4f4f4;">23</span>
<span id="t183" class="t" style="left:32.6px;top:631.30px;font-size:13px;line-height:13px;color:#d0d0d0;letter-spacing:-0.4px;">24</span>
<span id="t184" class="t" style="left:156.6px;top:631.30px;font-size:13px;line-height:13px;color:#d0d0d0;letter-spacing:-0.4px;">0.0007</span>
<span id="t185" class="t" style="left:280.6px;top:631.30px;font-size:13px;line-height:13px;color:#d0d0d0;letter-spacing:-0.4px;">7.7423</span>
<span id="t186" class="t" style="left:404.6px;top:631.30px;font-size:13px;line-height:13px;color:#d0d0d0;letter-spacing:-0.4px;">4.7885</span>
<span id="t187" class="t" style="left:528.6px;top:631.30px;font-size:13px;line-height:13px;color:#d0d0d0;letter-spacing:-0.4px;">1.1491</span>
</div>
<div style="left:155px;top:415px;width:1px;height:642px;background:#424242;"></div>
<div style="left:279px;top:415px;width:1px;height:642px;background:#424242;"></div>
<div style="left:403px;top:415px;width:1px;height:642px;background:#424242;"></div>
<div style="left:527px;top:415px;width:1px;height:642px;background:#424242;"></div>
<div style="left:31px;top:415px;width:1px;height:642px;background:#3567c8;"></div>
<div style="left:8px;top:440px;width:725px;height:1px;background:#3c74e0;"></div>
<div style="left:733px;top:415px;width:8px;height:642px;background:#333;"></div>
<div style="left:734.5px;top:416px;width:5.5px;height:308.5px;background:#555;border-radius:3px;"></div>
<svg style="left:742px;top:726px;" width="3" height="18" viewBox="0 0 3 18"><path d="M1.2 0V18" stroke="#3b7ff0" stroke-width="1.6" stroke-dasharray="1.5 1.5" fill="none"/></svg>
<div style="left:8px;top:1057px;width:736px;height:26px;background:#333333;"></div>
<div style="left:8px;top:1057px;width:733px;height:1px;background:#4a4a4a;"></div>
<span id="t188" class="t" style="left:16px;top:1064.30px;font-size:13px;line-height:13px;color:#e0e0e0;letter-spacing:-0.172px;">49 rows</span>
<div style="left:744px;top:415px;width:1186px;height:667px;background:#262626;"></div>
<div style="left:744px;top:1049px;width:1186px;height:1px;background:#484848;"></div>
<div style="left:8px;top:1082px;width:1922px;height:4px;background:#353535;"></div>
<div style="left:8px;top:1082px;width:1922px;height:1px;background:#4a4a4a;"></div>
<svg style="left:0;top:0" width="1930" height="1086" viewBox="0 0 1930 1086"><g stroke="#484848" stroke-width="1" fill="none"><path d="M836.8 435.5H1909.5" /><path d="M836.8 547.2H1909.5" /><path d="M836.8 658.9H1909.5" /><path d="M836.8 770.6H1909.5" /><path d="M836.8 882.3H1909.5" /><path d="M836.8 994.0H1909.5" /><path d="M1051.3 435.5V994.0" /><path d="M1265.9 435.5V994.0" /><path d="M1480.4 435.5V994.0" /><path d="M1695.0 435.5V994.0" /><path d="M1909.5 435.5V994.0" /></g><clipPath id="pc"><rect x="836" y="435.5" width="1074.2" height="558.5"/></clipPath><g clip-path="url(#pc)"><polyline points="836.0,783.7 858.4,652.7 880.8,783.7 903.1,783.7 925.5,914.6 947.9,783.7 970.2,783.7 992.6,523.0 1015.0,553.0 1037.4,546.9 1059.8,515.7 1082.1,566.5 1104.5,578.3 1126.9,590.2 1149.2,567.6 1171.6,586.6 1194.0,567.4 1216.4,586.0 1238.8,574.6 1261.1,579.5 1283.5,577.6 1305.9,579.1 1328.2,577.5 1350.6,578.4 1373.0,578.0 1395.4,578.3 1417.8,578.1 1440.1,578.2 1462.5,578.2 1484.9,578.2 1507.2,578.2 1529.6,578.2 1552.0,578.2 1574.4,578.2 1596.8,578.2 1619.1,578.2 1641.5,578.2 1663.9,578.2 1686.2,578.2 1708.6,578.2 1731.0,578.2 1753.4,578.2 1775.8,578.2 1798.1,578.2 1820.5,578.2 1842.9,578.2 1865.2,578.2 1887.6,578.2 1910.0,578.2" fill="none" stroke="#4283ec" stroke-width="1.9" stroke-linejoin="round"/><g fill="#3580f8"><circle cx="836.0" cy="783.7" r="3.05"/><circle cx="858.4" cy="652.7" r="3.05"/><circle cx="880.8" cy="783.7" r="3.05"/><circle cx="903.1" cy="783.7" r="3.05"/><circle cx="925.5" cy="914.6" r="3.05"/><circle cx="947.9" cy="783.7" r="3.05"/><circle cx="970.2" cy="783.7" r="3.05"/><circle cx="992.6" cy="523.0" r="3.05"/><circle cx="1015.0" cy="553.0" r="3.05"/><circle cx="1037.4" cy="546.9" r="3.05"/><circle cx="1059.8" cy="515.7" r="3.05"/><circle cx="1082.1" cy="566.5" r="3.05"/><circle cx="1104.5" cy="578.3" r="3.05"/><circle cx="1126.9" cy="590.2" r="3.05"/><circle cx="1149.2" cy="567.6" r="3.05"/><circle cx="1171.6" cy="586.6" r="3.05"/><circle cx="1194.0" cy="567.4" r="3.05"/><circle cx="1216.4" cy="586.0" r="3.05"/><circle cx="1238.8" cy="574.6" r="3.05"/><circle cx="1261.1" cy="579.5" r="3.05"/><circle cx="1283.5" cy="577.6" r="3.05"/><circle cx="1305.9" cy="579.1" r="3.05"/><circle cx="1328.2" cy="577.5" r="3.05"/><circle cx="1350.6" cy="578.4" r="3.05"/><circle cx="1373.0" cy="578.0" r="3.05"/><circle cx="1395.4" cy="578.3" r="3.05"/><circle cx="1417.8" cy="578.1" r="3.05"/><circle cx="1440.1" cy="578.2" r="3.05"/><circle cx="1462.5" cy="578.2" r="3.05"/><circle cx="1484.9" cy="578.2" r="3.05"/><circle cx="1507.2" cy="578.2" r="3.05"/><circle cx="1529.6" cy="578.2" r="3.05"/><circle cx="1552.0" cy="578.2" r="3.05"/><circle cx="1574.4" cy="578.2" r="3.05"/><circle cx="1596.8" cy="578.2" r="3.05"/><circle cx="1619.1" cy="578.2" r="3.05"/><circle cx="1641.5" cy="578.2" r="3.05"/><circle cx="1663.9" cy="578.2" r="3.05"/><circle cx="1686.2" cy="578.2" r="3.05"/><circle cx="1708.6" cy="578.2" r="3.05"/><circle cx="1731.0" cy="578.2" r="3.05"/><circle cx="1753.4" cy="578.2" r="3.05"/><circle cx="1775.8" cy="578.2" r="3.05"/><circle cx="1798.1" cy="578.2" r="3.05"/><circle cx="1820.5" cy="578.2" r="3.05"/><circle cx="1842.9" cy="578.2" r="3.05"/><circle cx="1865.2" cy="578.2" r="3.05"/><circle cx="1887.6" cy="578.2" r="3.05"/><circle cx="1910.0" cy="578.2" r="3.05"/></g></g><path d="M837.0999999999999 435.0V994.0H1909.5" stroke="#fff" stroke-width="2.2" fill="none"/></svg>
<span id="t189" class="t" style="right:1097.7px;top:431.15px;font-size:12.3px;line-height:12.3px;color:#d8d8d8;">9.647</span>
<span id="t190" class="t" style="right:1097.7px;top:543.15px;font-size:12.3px;line-height:12.3px;color:#d8d8d8;">8.154</span>
<span id="t191" class="t" style="right:1097.7px;top:655.15px;font-size:12.3px;line-height:12.3px;color:#d8d8d8;">6.662</span>
<span id="t192" class="t" style="right:1097.7px;top:766.15px;font-size:12.3px;line-height:12.3px;color:#d8d8d8;">5.169</span>
<span id="t193" class="t" style="right:1097.7px;top:878.15px;font-size:12.3px;line-height:12.3px;color:#d8d8d8;">3.676</span>
<span id="t194" class="t" style="right:1097.7px;top:990.15px;font-size:12.3px;line-height:12.3px;color:#d8d8d8;">2.184</span>
<span id="t195" class="t" style="left:836.8px;top:999.15px;font-size:12.3px;line-height:12.3px;color:#d8d8d8;transform:translateX(-50%);">0.00e+0</span>
<span id="t196" class="t" style="left:1051.34px;top:999.15px;font-size:12.3px;line-height:12.3px;color:#d8d8d8;transform:translateX(-50%);">9.6</span>
<span id="t197" class="t" style="left:1265.88px;top:999.15px;font-size:12.3px;line-height:12.3px;color:#d8d8d8;transform:translateX(-50%);">19.2</span>
<span id="t198" class="t" style="left:1480.42px;top:999.15px;font-size:12.3px;line-height:12.3px;color:#d8d8d8;transform:translateX(-50%);">28.8</span>
<span id="t199" class="t" style="left:1694.96px;top:999.15px;font-size:12.3px;line-height:12.3px;color:#d8d8d8;transform:translateX(-50%);">38.4</span>
<span id="t200" class="t" style="left:1909.5px;top:999.15px;font-size:12.3px;line-height:12.3px;color:#d8d8d8;transform:translateX(-50%);">48</span>
<span id="t201" class="t" style="left:1373px;top:1022.30px;font-size:13px;line-height:13px;color:#e4e4e4;transform:translateX(-50%);">Iteration</span>
<span class="t" style="left:763px;top:713.7px;font-size:13px;line-height:13px;color:#e4e4e4;transform:translate(-50%,-50%) rotate(-90deg);transform-origin:50% 50%;letter-spacing:-0.19px;">Design Param 'spar_thickness' (mm)</span>
<span id="t202" class="t" style="left:762px;top:1060.30px;font-size:13px;line-height:13px;color:#f0f0f0;letter-spacing:-0.469px;">49</span>
<div style="left:821px;top:1063px;width:80px;height:7px;background:#3b7ff0;border-radius:4px;"></div>
<div style="left:890px;top:1059px;width:14px;height:14px;background:#3b7ff0;border-radius:7px;"></div>
<div style="left:909px;top:1054px;width:64px;height:24px;background:#292929;"></div>
<span id="t203" class="t" style="left:918px;top:1060.30px;font-size:13px;line-height:13px;color:#9a9a9a;">0</span>
<div style="left:978px;top:1063px;width:78px;height:6px;background:#181818;border-radius:3px;"></div>
<div style="left:974px;top:1059px;width:14px;height:14px;background:#5a5a5a;border-radius:7px;"></div>
<svg style="left:1575px;top:12px" width="96" height="88" viewBox="0 0 96 88">
<g stroke-linejoin="round">
<path d="M46.4 27.1L21.7 37.7L46.4 51.2L71.3 37.7Z" fill="#ececec" stroke="#8c8c8c" stroke-width="0.8"/>
<path d="M21.7 37.7L46.4 51.2V79.8L24.3 64Z" fill="#f1f1f1" stroke="#9a9a9a" stroke-width="0.8"/>
<path d="M71.3 37.7L46.4 51.2V79.8L68.9 63.2Z" fill="#f4f4f4" stroke="#9a9a9a" stroke-width="0.8"/>
</g>
<path d="M46.4 21.2V26.8" stroke="#3d8bd9" stroke-width="2.4"/>
<path d="M20 66.4L24.5 64.2" stroke="#e24c4c" stroke-width="1.8"/>
<path d="M67.6 64L72.6 66.8" stroke="#2fb457" stroke-width="2.2"/>
<g font-family="Liberation Sans, sans-serif" font-weight="700">
<text x="43.2" y="18.6" font-size="10.5" fill="#4a7ab5">Z</text>
<text x="12.2" y="73.6" font-size="10" fill="#c2566c">X</text>
<text x="74.6" y="73.6" font-size="10.5" fill="#3a9a55">Y</text>
<g font-size="6.2" fill="#4a4a4a" font-weight="700" text-anchor="middle">
<text transform="matrix(-0.62 0.34 -0.62 -0.34 46.6 36.6)">TOP</text>
<text transform="matrix(0.7 0.38 0 1 34.3 59.6)">RIGHT</text>
<text transform="matrix(0.7 -0.38 0 1 59.2 60)">BACK</text>
</g></g></svg>
<div style="left:0px;top:345px;width:9.5px;height:47px;background:#000;"></div>
<div style="left:366px;top:171.7px;width:40px;height:40px;background:#2b8cff;border-radius:20px;box-shadow:0 2px 5px rgba(0,0,0,0.55);"></div>
<svg style="left:366px;top:171.7px;" width="40" height="40" viewBox="0 0 40 40"><path d="M23.4 10.3V31.3H19.8V14.8L14.8 16.9V13.9L21.4 10.3Z" fill="#fff"/></svg>
<div style="left:1735px;top:1px;width:40px;height:40px;background:#2b8cff;border-radius:20px;box-shadow:0 2px 5px rgba(0,0,0,0.55);"></div>
<span id="t204" class="t" style="left:1754.5px;top:7.80px;font-size:28px;line-height:28px;color:#fff;transform:translateX(-50%);-webkit-text-stroke:0.5px #fff;">2</span>
<div style="left:1635px;top:151px;width:40px;height:40px;background:#2b8cff;border-radius:20px;box-shadow:0 2px 5px rgba(0,0,0,0.55);"></div>
<span id="t205" class="t" style="left:1654.5px;top:157.80px;font-size:28px;line-height:28px;color:#fff;transform:translateX(-50%);-webkit-text-stroke:0.5px #fff;">3</span>
<div style="left:1px;top:341.6px;width:40px;height:40px;background:#2b8cff;border-radius:20px;box-shadow:0 2px 5px rgba(0,0,0,0.55);"></div>
<span id="t206" class="t" style="left:20.5px;top:348.80px;font-size:28px;line-height:28px;color:#fff;transform:translateX(-50%);-webkit-text-stroke:0.5px #fff;">4</span>
</body></html>
